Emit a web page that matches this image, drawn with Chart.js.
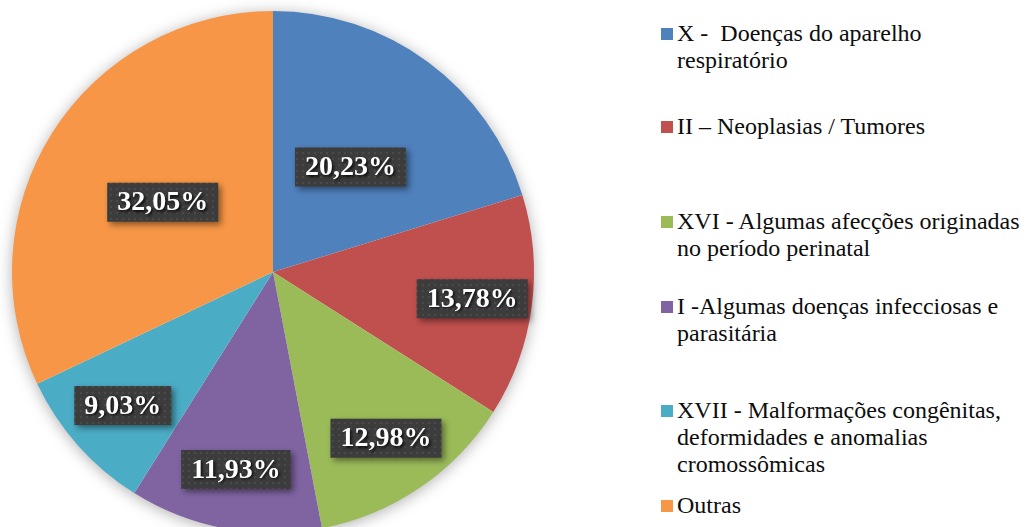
<!DOCTYPE html>
<html>
<head>
<meta charset="utf-8">
<script src="https://cdn.jsdelivr.net/npm/chart.js@4/dist/chart.umd.min.js"></script>
<style>
  body { margin: 0; width: 1030px; height: 527px; overflow: hidden; background: #fff; position: relative; }
  #wrap { position: absolute; left: 0; top: 0; width: 546px; height: 544px; }
  .item { position: absolute; left: 661px; font-family: "Liberation Serif", "Times New Roman", serif; font-size: 24px; line-height: 27px; color: #0d0d0d; white-space: pre; }
  .item .mark { position: absolute; left: 0; top: 8px; width: 12px; height: 12px; }
  .item .txt { position: absolute; left: 16px; top: 0; }
</style>
</head>
<body>
<div id="wrap"><canvas id="canvas"></canvas></div>
<div id="legend"></div>
<script>
const categories = [
  ["X -  Doenças do aparelho", "respiratório"],
  ["II – Neoplasias / Tumores"],
  ["XVI - Algumas afecções originadas", "no período perinatal"],
  ["I -Algumas doenças infecciosas e", "parasitária"],
  ["XVII - Malformações congênitas,", "deformidades e anomalias", "cromossômicas"],
  ["Outras"]
];
const shares = [20.23, 13.78, 12.98, 11.93, 9.03, 32.05];
const colors = ["#4F81BD", "#C0504D", "#9BBB59", "#8064A2", "#4BACC6", "#F79646"];

// legend item tops (px), Excel spreads them unevenly
const legendTops = [20, 113, 208, 293, 397, 492];

const legendDiv = document.querySelector("#legend");
legendDiv.innerHTML = categories
  .map((lines, i) => `
    <div class="item" style="top:${legendTops[i]}px">
      <div class="mark" style="background:${colors[i]}"></div>
      <div class="txt">${lines.join("\n")}</div>
    </div>`)
  .join("");

function makePattern(ctx) {
  const c = document.createElement("canvas");
  c.width = 6; c.height = 6;
  const g = c.getContext("2d");
  g.fillStyle = "#3c3c3c";
  g.fillRect(0, 0, 6, 6);
  g.fillStyle = "#4a4a4a";
  g.beginPath();
  g.arc(3, 3, 1.3, 0, Math.PI * 2);
  g.fill();
  return ctx.createPattern(c, "repeat");
}

const pieShadow = {
  id: "pieShadow",
  beforeDatasetsDraw(chart) {
    const arc = chart.getDatasetMeta(0).data[0];
    const p = arc.getProps(["x", "y", "outerRadius"], true);
    const ctx = chart.ctx;
    ctx.save();
    ctx.shadowColor = "rgba(0,0,0,0.35)";
    ctx.shadowBlur = 16;
    ctx.shadowOffsetY = 2;
    ctx.fillStyle = "#fff";
    ctx.beginPath();
    ctx.arc(p.x, p.y, p.outerRadius - 1, 0, Math.PI * 2);
    ctx.fill();
    ctx.restore();
  }
};

const boxLabels = {
  id: "boxLabels",
  afterDatasetsDraw(chart) {
    const ctx = chart.ctx;
    const pat = makePattern(ctx);
    const values = chart.data.datasets[0].data;
    chart.getDatasetMeta(0).data.forEach((arc, i) => {
      const p = arc.getProps(["x", "y", "startAngle", "endAngle", "outerRadius"], true);
      const mid = (p.startAngle + p.endAngle) / 2;
      const f = values[i] > 15 ? 0.5 : 0.77;
      const cx = p.x + Math.cos(mid) * p.outerRadius * f;
      const cy = p.y + Math.sin(mid) * p.outerRadius * f;
      const text = values[i].toFixed(2).replace(".", ",") + "%";
      ctx.save();
      ctx.font = 'bold 28px "Liberation Serif", serif';
      const w = ctx.measureText(text).width + 20;
      const h = 39;
      ctx.shadowColor = "rgba(0,0,0,0.45)";
      ctx.shadowBlur = 6;
      ctx.shadowOffsetX = 3;
      ctx.shadowOffsetY = 3;
      ctx.fillStyle = pat;
      ctx.fillRect(cx - w / 2, cy - h / 2, w, h);
      ctx.shadowColor = "rgba(0,0,0,0.85)";
      ctx.shadowBlur = 3;
      ctx.shadowOffsetX = 1.5;
      ctx.shadowOffsetY = 1.5;
      ctx.fillStyle = "#fff";
      ctx.textAlign = "center";
      ctx.textBaseline = "middle";
      ctx.fillText(text, cx, cy + 1);
      ctx.restore();
    });
  }
};

new Chart(document.querySelector("#canvas").getContext("2d"), {
  type: "pie",
  data: {
    labels: categories.map((l) => l.join(" ")),
    datasets: [{
      data: shares,
      backgroundColor: colors,
      borderWidth: 0
    }]
  },
  options: {
    responsive: true,
    maintainAspectRatio: false,
    animation: false,
    layout: { padding: 11 },
    plugins: {
      legend: { display: false },
      tooltip: { enabled: false }
    }
  },
  plugins: [pieShadow, boxLabels]
});
</script>
</body>
</html>
